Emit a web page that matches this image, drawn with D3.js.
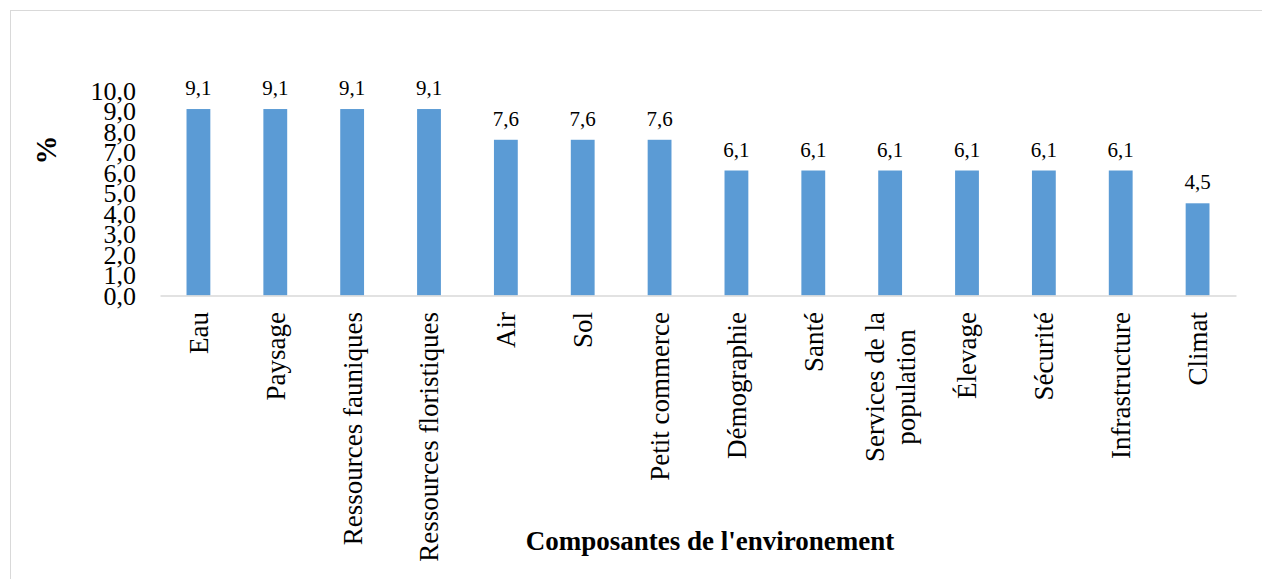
<!DOCTYPE html>
<html>
<head>
<meta charset="utf-8">
<script src="https://cdn.jsdelivr.net/npm/d3@7"></script>
<style>
  html, body { margin: 0; padding: 0; background: #fff; }
  svg { display: block; }
  svg text { font-family: 'Liberation Serif', 'Times New Roman', serif; }
</style>
</head>
<body>
<svg id="chart" width="1262" height="579"></svg>
<script>
// Share of each environmental component (%)
const categories = [
  "Eau", "Paysage", "Ressources fauniques", "Ressources floristiques",
  "Air", "Sol", "Petit commerce", "Démographie", "Santé",
  "Services de la\npopulation", "Élevage", "Sécurité", "Infrastructure", "Climat"
];
const values = [9.1, 9.1, 9.1, 9.1, 7.6, 7.6, 7.6, 6.1, 6.1, 6.1, 6.1, 6.1, 6.1, 4.5];
const yTicks = [0, 1, 2, 3, 4, 5, 6, 7, 8, 9, 10];

const FONT = "'Liberation Serif', 'Times New Roman', serif";
const fmt = v => d3.format(".1f")(v).replace(".", ",");

const svg = d3.select("#chart").attr("font-family", FONT);
const W = 1262, H = 579;
const plot = { left: 160, right: 1236, top: 90.6, bottom: 295.5 };

// Outer chart frame
svg.append("rect")
  .attr("x", 10.5).attr("y", 10.5)
  .attr("width", W + 20).attr("height", H + 20)
  .attr("fill", "none").attr("stroke", "#d9d9d9").attr("stroke-width", 1);

const x = d3.scaleBand()
  .domain(categories)
  .range([plot.left, plot.right])
  .paddingInner(0.69)
  .paddingOuter(0.345);

const y = d3.scaleLinear().domain([0, 10]).range([plot.bottom, plot.top]);

// Y axis: labels only
const yAxis = svg.append("g")
  .attr("transform", `translate(${plot.left - 24},0)`)
  .call(d3.axisLeft(y).tickValues(yTicks).tickFormat(fmt).tickSize(0).tickPadding(0));
yAxis.attr("font-family", FONT);
yAxis.select(".domain").remove();
yAxis.selectAll("text")
  .attr("font-family", FONT)
  .attr("font-size", 26)
  .attr("fill", "#000")
  .attr("dy", "0.33em");

// Bars
svg.append("g").selectAll("rect")
  .data(values)
  .join("rect")
  .attr("x", (d, i) => x(categories[i]))
  .attr("y", d => y(d))
  .attr("width", x.bandwidth())
  .attr("height", d => y(0) - y(d))
  .attr("fill", "#5b9bd5");

// Value labels
svg.append("g").selectAll("text")
  .data(values)
  .join("text")
  .attr("x", (d, i) => x(categories[i]) + x.bandwidth() / 2)
  .attr("y", d => y(d) - 14)
  .attr("text-anchor", "middle")
  .attr("font-family", FONT)
  .attr("font-size", 21)
  .attr("fill", "#000")
  .text(d => fmt(d));

// X axis baseline
const xAxis = svg.append("g")
  .attr("transform", `translate(0,${plot.bottom})`)
  .call(d3.axisBottom(x).tickSize(0).tickFormat(""));
xAxis.select(".domain")
  .attr("stroke", "#d9d9d9").attr("stroke-width", 1.6);

// Rotated category labels, end-aligned under the axis
const labelTop = 312;
const lineGap = 31;
const catG = svg.append("g");
categories.forEach(c => {
  const lines = c.split("\n");
  const g = catG.append("g")
    .attr("transform", `translate(${x(c) + x.bandwidth() / 2},${labelTop}) rotate(-90)`);
  const t = g.append("text")
    .attr("text-anchor", "end")
    .attr("font-family", FONT)
    .attr("font-size", 27)
    .attr("fill", "#000");
  const spans = lines.map((ln, k) => t.append("tspan")
    .attr("x", 0)
    .attr("y", (k - (lines.length - 1) / 2) * lineGap)
    .attr("dy", "0.35em")
    .text(ln));
  if (lines.length > 1) {
    const lens = spans.map(s => s.node().getComputedTextLength());
    const maxLen = d3.max(lens);
    spans.forEach((s, k) => s.attr("x", -(maxLen - lens[k]) / 2));
  }
});

// Axis titles
svg.append("text")
  .attr("x", 710).attr("y", 550)
  .attr("text-anchor", "middle")
  .attr("font-family", FONT)
  .attr("font-size", 27)
  .attr("font-weight", "bold")
  .attr("fill", "#000")
  .text("Composantes de l'environement");

svg.append("text")
  .attr("transform", "translate(45.5,150) rotate(-90)")
  .attr("text-anchor", "middle")
  .attr("dy", "0.35em")
  .attr("font-family", FONT)
  .attr("font-size", 29)
  .attr("font-weight", "bold")
  .attr("fill", "#000")
  .text("%");
</script>
</body>
</html>
